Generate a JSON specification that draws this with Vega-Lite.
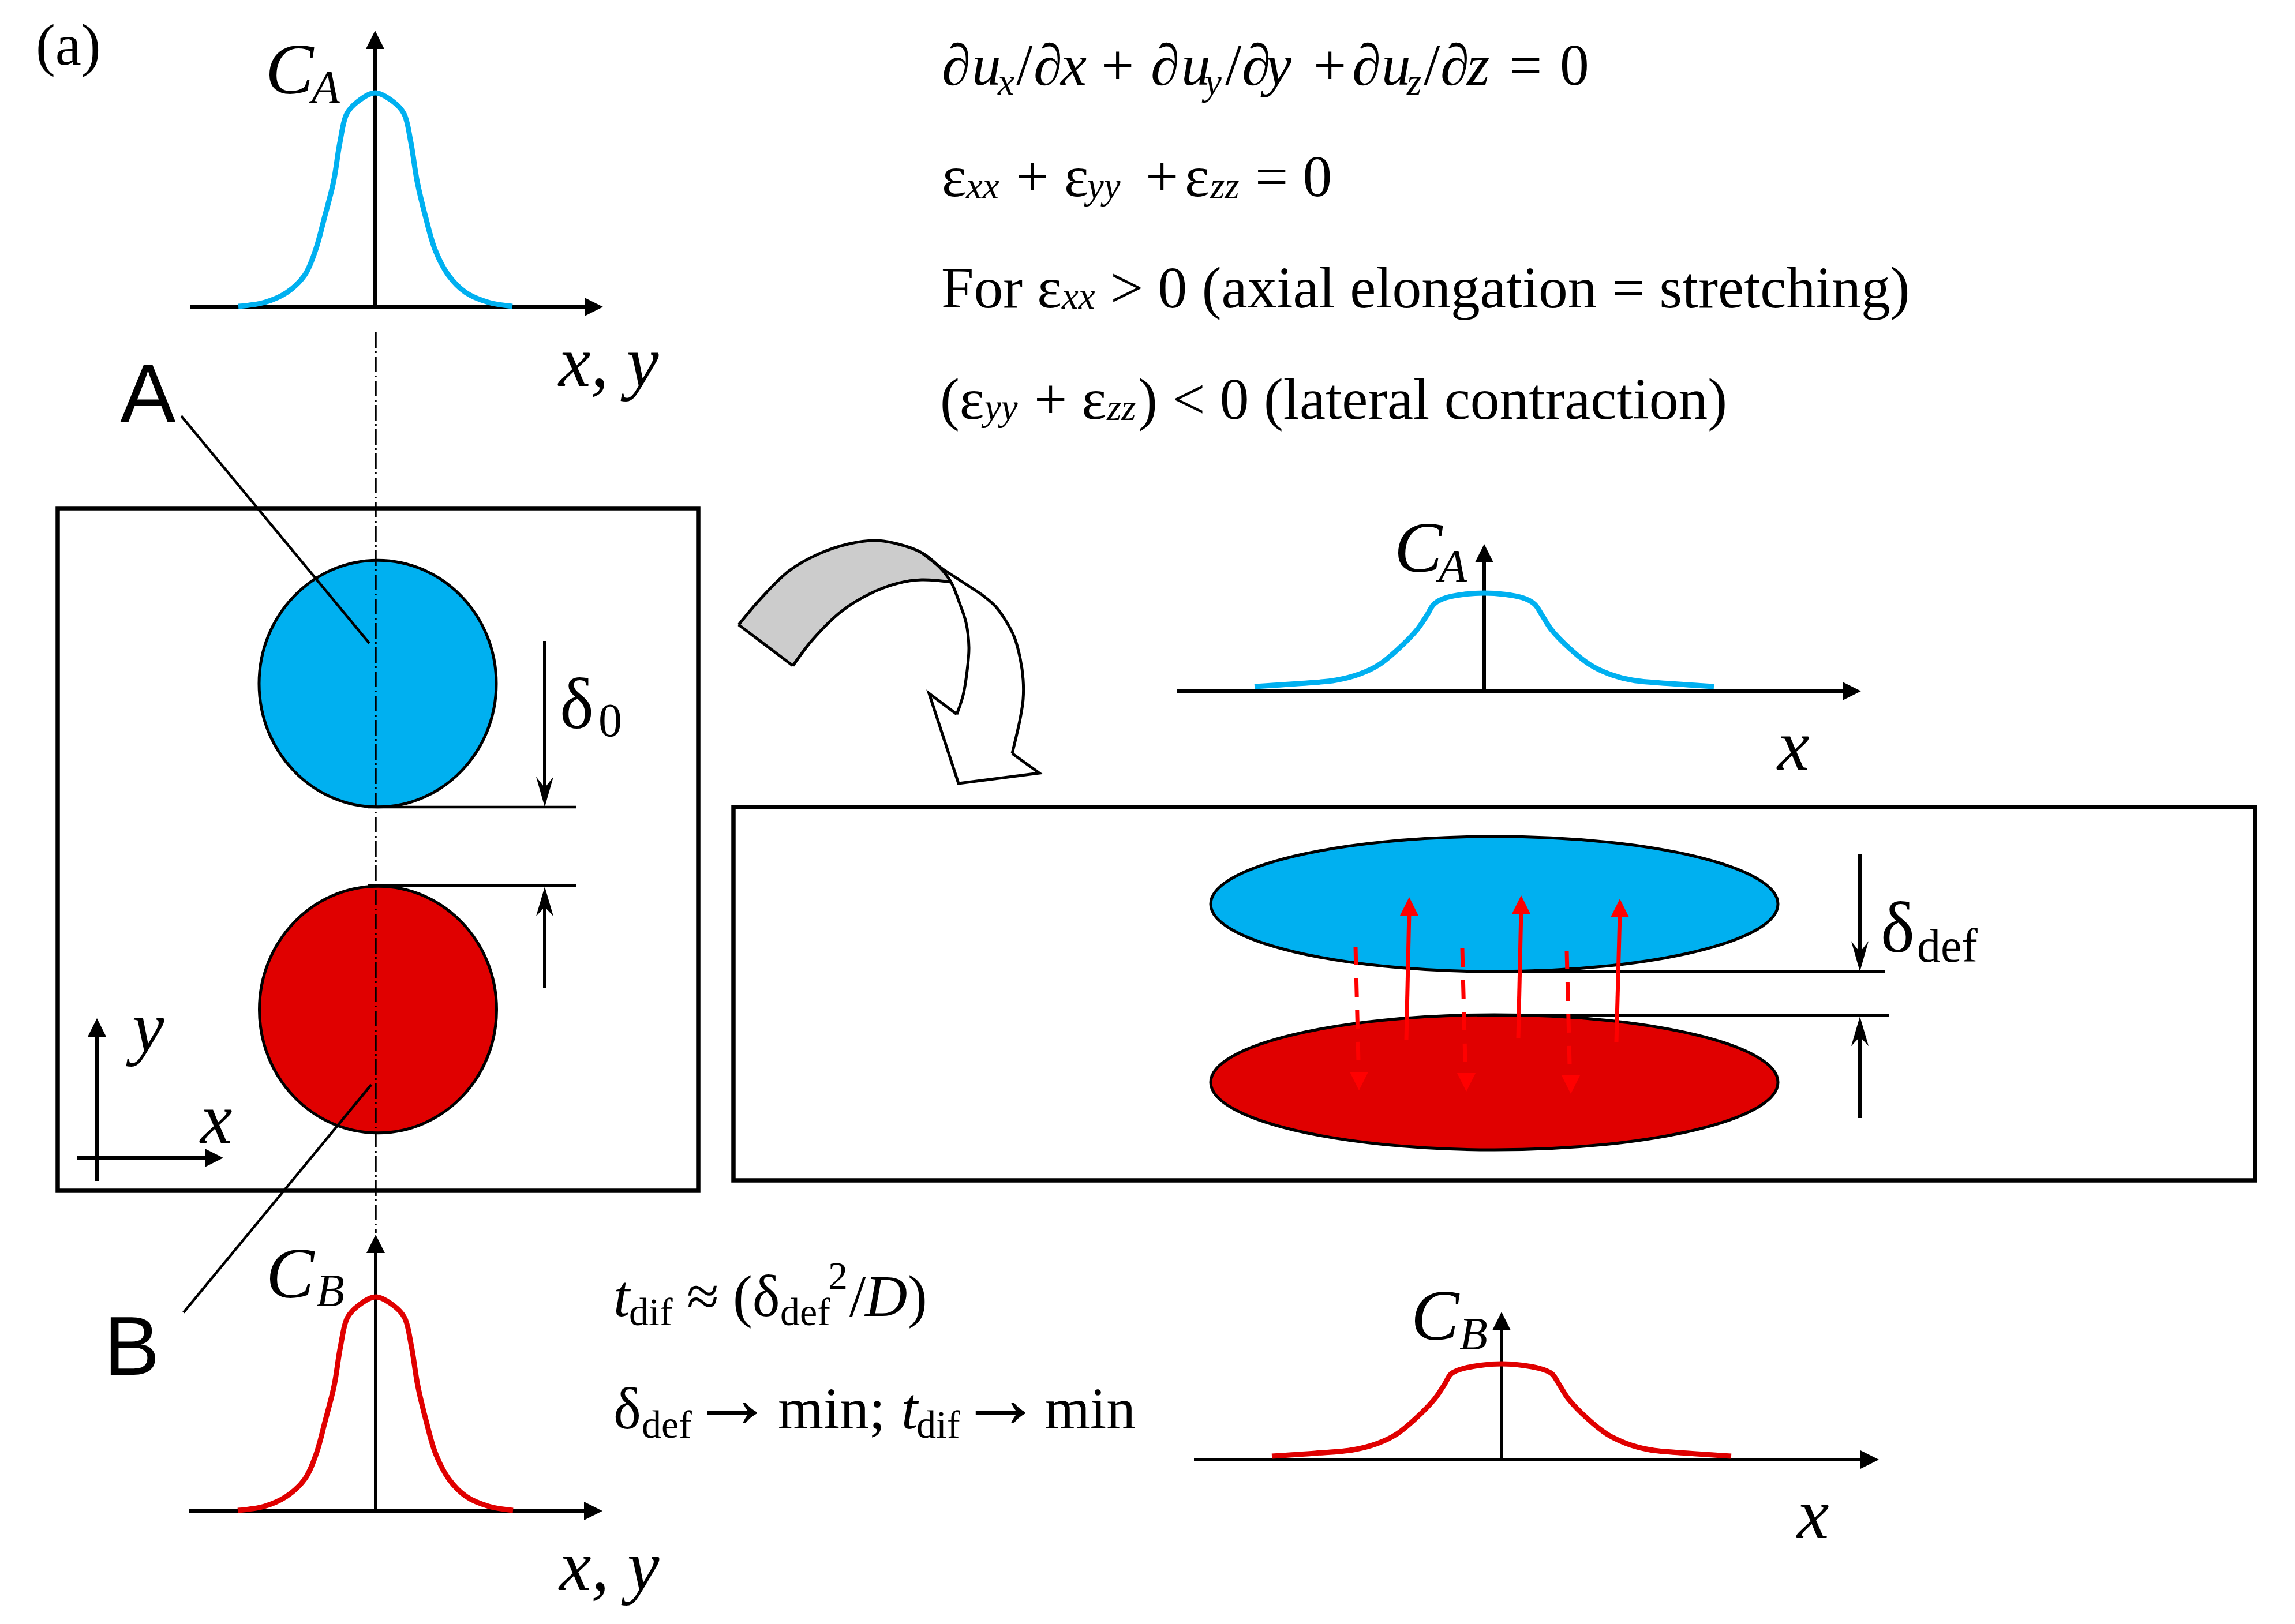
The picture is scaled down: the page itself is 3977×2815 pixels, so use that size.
{
"$schema":"https://vega.github.io/schema/vega-lite/v6.json",
"width":3977,"height":2815,"padding":0,"autosize":{"type":"none"},"background":"white",
"config":{"view":{"stroke":null}},
"datasets":{
"frames":[{"x":100,"x2":1210,"y":881,"y2":2064},{"x":1271,"x2":3908,"y":1399,"y2":2046}],
"bodies":[
{"id":"A","form":"round","x":654.5,"y":1185},{"id":"B","form":"round","x":655,"y":1750},
{"id":"A","form":"flat","x":2589.5,"y":1567},{"id":"B","form":"flat","x":2589.5,"y":1876}],
"band":[{"x":1280,"y":1083,"y2":1083},{"x":1317,"y":1039,"y2":1111},{"x":1368,"y":989,"y2":1150},{"x":1374,"y":986,"y2":1154},{"x":1408,"y":966,"y2":1109},{"x":1419,"y":960,"y2":1098},{"x":1459,"y":946,"y2":1059},{"x":1470,"y":943,"y2":1052},{"x":1510,"y":937,"y2":1028},{"x":1516,"y":937,"y2":1026},{"x":1556,"y":943,"y2":1011},{"x":1597,"y":958,"y2":1005},{"x":1628,"y":983,"y2":1006},{"x":1648,"y":1009,"y2":1009}],
"lines":[
{"kind":"axis","id":"tlv","i":0,"x":650,"y":80},{"kind":"axis","id":"tlv","i":1,"x":650,"y":532},
{"kind":"axis","id":"tlh","i":0,"x":329,"y":532},{"kind":"axis","id":"tlh","i":1,"x":1024,"y":532},
{"kind":"axis","id":"blv","i":0,"x":651,"y":2165},{"kind":"axis","id":"blv","i":1,"x":651,"y":2619},
{"kind":"axis","id":"blh","i":0,"x":328,"y":2619},{"kind":"axis","id":"blh","i":1,"x":1025,"y":2619},
{"kind":"axis","id":"bxv","i":0,"x":168,"y":1790},{"kind":"axis","id":"bxv","i":1,"x":168,"y":2047},
{"kind":"axis","id":"bxh","i":0,"x":133,"y":2007},{"kind":"axis","id":"bxh","i":1,"x":365,"y":2007},
{"kind":"axis","id":"trv","i":0,"x":2572,"y":970},{"kind":"axis","id":"trv","i":1,"x":2572,"y":1198},
{"kind":"axis","id":"trh","i":0,"x":2039,"y":1198},{"kind":"axis","id":"trh","i":1,"x":3200,"y":1198},
{"kind":"axis","id":"brv","i":0,"x":2602,"y":2300},{"kind":"axis","id":"brv","i":1,"x":2602,"y":2530},
{"kind":"axis","id":"brh","i":0,"x":2069,"y":2530},{"kind":"axis","id":"brh","i":1,"x":3235,"y":2530},
{"kind":"axis","id":"d1","i":0,"x":944,"y":1111},{"kind":"axis","id":"d1","i":1,"x":944,"y":1370},
{"kind":"axis","id":"d2","i":0,"x":944,"y":1570},{"kind":"axis","id":"d2","i":1,"x":944,"y":1713},
{"kind":"axis","id":"d3","i":0,"x":3223,"y":1481},{"kind":"axis","id":"d3","i":1,"x":3223,"y":1655},
{"kind":"axis","id":"d4","i":0,"x":3223,"y":1790},{"kind":"axis","id":"d4","i":1,"x":3223,"y":1938},
{"kind":"thin","id":"h1","i":0,"x":637,"y":1399},{"kind":"thin","id":"h1","i":1,"x":999,"y":1399},
{"kind":"thin","id":"h2","i":0,"x":637,"y":1535},{"kind":"thin","id":"h2","i":1,"x":999,"y":1535},
{"kind":"thin","id":"h3","i":0,"x":2559,"y":1684},{"kind":"thin","id":"h3","i":1,"x":3267,"y":1684},
{"kind":"thin","id":"h4","i":0,"x":2559,"y":1760},{"kind":"thin","id":"h4","i":1,"x":3273,"y":1760},
{"kind":"thin","id":"la","i":0,"x":314,"y":721},{"kind":"thin","id":"la","i":1,"x":640,"y":1115},
{"kind":"thin","id":"lb","i":0,"x":643.5,"y":1880},{"kind":"thin","id":"lb","i":1,"x":318,"y":2275},
{"kind":"centre","id":"c","i":0,"x":651,"y":576},{"kind":"centre","id":"c","i":1,"x":651,"y":2138},
{"kind":"redsolid","id":"r1","i":0,"x":2437,"y":1803},{"kind":"redsolid","id":"r1","i":1,"x":2442,"y":1580},
{"kind":"redsolid","id":"r2","i":0,"x":2631,"y":1800},{"kind":"redsolid","id":"r2","i":1,"x":2636,"y":1578},
{"kind":"redsolid","id":"r3","i":0,"x":2801,"y":1806},{"kind":"redsolid","id":"r3","i":1,"x":2807,"y":1585},
{"kind":"reddash","id":"q1","i":0,"x":2349,"y":1641},{"kind":"reddash","id":"q1","i":1,"x":2354,"y":1839},
{"kind":"reddash","id":"q2","i":0,"x":2534,"y":1644},{"kind":"reddash","id":"q2","i":1,"x":2539,"y":1841},
{"kind":"reddash","id":"q3","i":0,"x":2715,"y":1648},{"kind":"reddash","id":"q3","i":1,"x":2720,"y":1845},
{"kind":"edge","id":"e1","i":0,"x":1280,"y":1083},{"kind":"edge","id":"e1","i":1,"x":1374,"y":1154},
{"kind":"edge","id":"e2","i":0,"x":1658,"y":1238},{"kind":"edge","id":"e2","i":1,"x":1610,"y":1202},{"kind":"edge","id":"e2","i":2,"x":1661,"y":1358},{"kind":"edge","id":"e2","i":3,"x":1801,"y":1340},{"kind":"edge","id":"e2","i":4,"x":1754,"y":1306},
{"kind":"edge","id":"e3","i":0,"x":1597,"y":958},{"kind":"edge","id":"e3","i":1,"x":1633,"y":986},{"kind":"edge","id":"e3","i":2,"x":1699,"y":1029},
{"kind":"bend","id":"b1","i":0,"x":1280,"y":1083},{"kind":"bend","id":"b1","i":1,"x":1317,"y":1039},{"kind":"bend","id":"b1","i":2,"x":1368,"y":989},{"kind":"bend","id":"b1","i":3,"x":1419,"y":960},{"kind":"bend","id":"b1","i":4,"x":1470,"y":943},{"kind":"bend","id":"b1","i":5,"x":1516,"y":937},{"kind":"bend","id":"b1","i":6,"x":1556,"y":943},{"kind":"bend","id":"b1","i":7,"x":1597,"y":958},{"kind":"bend","id":"b1","i":8,"x":1628,"y":983},{"kind":"bend","id":"b1","i":9,"x":1648,"y":1009},{"kind":"bend","id":"b1","i":10,"x":1663,"y":1046},{"kind":"bend","id":"b1","i":11,"x":1674,"y":1079},{"kind":"bend","id":"b1","i":12,"x":1679,"y":1122},{"kind":"bend","id":"b1","i":13,"x":1676,"y":1162},{"kind":"bend","id":"b1","i":14,"x":1669,"y":1205},{"kind":"bend","id":"b1","i":15,"x":1658,"y":1238},
{"kind":"bend","id":"b2","i":0,"x":1374,"y":1154},{"kind":"bend","id":"b2","i":1,"x":1408,"y":1109},{"kind":"bend","id":"b2","i":2,"x":1459,"y":1059},{"kind":"bend","id":"b2","i":3,"x":1510,"y":1028},{"kind":"bend","id":"b2","i":4,"x":1556,"y":1011},{"kind":"bend","id":"b2","i":5,"x":1597,"y":1005},{"kind":"bend","id":"b2","i":6,"x":1648,"y":1009},
{"kind":"bend","id":"b3","i":0,"x":1754,"y":1306},{"kind":"bend","id":"b3","i":1,"x":1768,"y":1245},{"kind":"bend","id":"b3","i":2,"x":1773,"y":1212},{"kind":"bend","id":"b3","i":3,"x":1773,"y":1178},{"kind":"bend","id":"b3","i":4,"x":1768,"y":1142},{"kind":"bend","id":"b3","i":5,"x":1758,"y":1105},{"kind":"bend","id":"b3","i":6,"x":1743,"y":1076},{"kind":"bend","id":"b3","i":7,"x":1725,"y":1051},{"kind":"bend","id":"b3","i":8,"x":1699,"y":1029}
],
"curves":[
{"id":"A1","body":"A","i":0,"x":413,"y":531},{"id":"A1","body":"A","i":1,"x":459,"y":524},{"id":"A1","body":"A","i":2,"x":497,"y":507},{"id":"A1","body":"A","i":3,"x":528,"y":477},{"id":"A1","body":"A","i":4,"x":547,"y":433},{"id":"A1","body":"A","i":5,"x":562,"y":378},{"id":"A1","body":"A","i":6,"x":578,"y":315},{"id":"A1","body":"A","i":7,"x":589,"y":247},{"id":"A1","body":"A","i":8,"x":601,"y":197},{"id":"A1","body":"A","i":9,"x":620,"y":176},{"id":"A1","body":"A","i":10,"x":650,"y":161},{"id":"A1","body":"A","i":11,"x":681,"y":176},{"id":"A1","body":"A","i":12,"x":700,"y":197},{"id":"A1","body":"A","i":13,"x":712,"y":247},{"id":"A1","body":"A","i":14,"x":723,"y":315},{"id":"A1","body":"A","i":15,"x":738,"y":378},{"id":"A1","body":"A","i":16,"x":754,"y":433},{"id":"A1","body":"A","i":17,"x":777,"y":477},{"id":"A1","body":"A","i":18,"x":807,"y":507},{"id":"A1","body":"A","i":19,"x":846,"y":524},{"id":"A1","body":"A","i":20,"x":888,"y":531},
{"id":"B1","body":"B","i":0,"x":412,"y":2618},{"id":"B1","body":"B","i":1,"x":458,"y":2611},{"id":"B1","body":"B","i":2,"x":496,"y":2594},{"id":"B1","body":"B","i":3,"x":528,"y":2564},{"id":"B1","body":"B","i":4,"x":548,"y":2520},{"id":"B1","body":"B","i":5,"x":563,"y":2465},{"id":"B1","body":"B","i":6,"x":579,"y":2402},{"id":"B1","body":"B","i":7,"x":590,"y":2334},{"id":"B1","body":"B","i":8,"x":602,"y":2284},{"id":"B1","body":"B","i":9,"x":621,"y":2263},{"id":"B1","body":"B","i":10,"x":651,"y":2248},{"id":"B1","body":"B","i":11,"x":682,"y":2263},{"id":"B1","body":"B","i":12,"x":701,"y":2284},{"id":"B1","body":"B","i":13,"x":713,"y":2334},{"id":"B1","body":"B","i":14,"x":724,"y":2402},{"id":"B1","body":"B","i":15,"x":739,"y":2465},{"id":"B1","body":"B","i":16,"x":755,"y":2520},{"id":"B1","body":"B","i":17,"x":778,"y":2564},{"id":"B1","body":"B","i":18,"x":808,"y":2594},{"id":"B1","body":"B","i":19,"x":847,"y":2611},{"id":"B1","body":"B","i":20,"x":889,"y":2618},
{"id":"A2","body":"A","i":0,"x":2174,"y":1190},{"id":"A2","body":"A","i":1,"x":2249,"y":1185},{"id":"A2","body":"A","i":2,"x":2315,"y":1179},{"id":"A2","body":"A","i":3,"x":2357,"y":1168},{"id":"A2","body":"A","i":4,"x":2390,"y":1152},{"id":"A2","body":"A","i":5,"x":2423,"y":1125},{"id":"A2","body":"A","i":6,"x":2456,"y":1091},{"id":"A2","body":"A","i":7,"x":2473,"y":1066},{"id":"A2","body":"A","i":8,"x":2485,"y":1047},{"id":"A2","body":"A","i":9,"x":2506,"y":1036},{"id":"A2","body":"A","i":10,"x":2572,"y":1028},{"id":"A2","body":"A","i":11,"x":2638,"y":1036},{"id":"A2","body":"A","i":12,"x":2659,"y":1047},{"id":"A2","body":"A","i":13,"x":2672,"y":1066},{"id":"A2","body":"A","i":14,"x":2688,"y":1091},{"id":"A2","body":"A","i":15,"x":2721,"y":1125},{"id":"A2","body":"A","i":16,"x":2755,"y":1152},{"id":"A2","body":"A","i":17,"x":2788,"y":1168},{"id":"A2","body":"A","i":18,"x":2829,"y":1179},{"id":"A2","body":"A","i":19,"x":2896,"y":1185},{"id":"A2","body":"A","i":20,"x":2970,"y":1190},
{"id":"B2","body":"B","i":0,"x":2204,"y":2524},{"id":"B2","body":"B","i":1,"x":2279,"y":2519},{"id":"B2","body":"B","i":2,"x":2345,"y":2513},{"id":"B2","body":"B","i":3,"x":2387,"y":2502},{"id":"B2","body":"B","i":4,"x":2420,"y":2486},{"id":"B2","body":"B","i":5,"x":2453,"y":2459},{"id":"B2","body":"B","i":6,"x":2486,"y":2425},{"id":"B2","body":"B","i":7,"x":2503,"y":2400},{"id":"B2","body":"B","i":8,"x":2515,"y":2381},{"id":"B2","body":"B","i":9,"x":2536,"y":2372},{"id":"B2","body":"B","i":10,"x":2602,"y":2364},{"id":"B2","body":"B","i":11,"x":2668,"y":2372},{"id":"B2","body":"B","i":12,"x":2689,"y":2381},{"id":"B2","body":"B","i":13,"x":2702,"y":2400},{"id":"B2","body":"B","i":14,"x":2718,"y":2425},{"id":"B2","body":"B","i":15,"x":2751,"y":2459},{"id":"B2","body":"B","i":16,"x":2785,"y":2486},{"id":"B2","body":"B","i":17,"x":2818,"y":2502},{"id":"B2","body":"B","i":18,"x":2859,"y":2513},{"id":"B2","body":"B","i":19,"x":2926,"y":2519},{"id":"B2","body":"B","i":20,"x":3000,"y":2524}
],
"heads":[
{"dir":"up","tone":"black","x":650,"y":53},{"dir":"right","tone":"black","x":1045,"y":532},
{"dir":"up","tone":"black","x":651,"y":2140},{"dir":"right","tone":"black","x":1044,"y":2619},
{"dir":"up","tone":"black","x":168,"y":1765},{"dir":"right","tone":"black","x":387,"y":2007},
{"dir":"up","tone":"black","x":2572,"y":943},{"dir":"right","tone":"black","x":3225,"y":1198},
{"dir":"up","tone":"black","x":2602,"y":2274},{"dir":"right","tone":"black","x":3256,"y":2530},
{"dir":"barbdown","tone":"black","x":944,"y":1399},{"dir":"barbup","tone":"black","x":944,"y":1537},
{"dir":"barbdown","tone":"black","x":3223,"y":1684},{"dir":"barbup","tone":"black","x":3223,"y":1762},
{"dir":"up","tone":"red","x":2442,"y":1555},{"dir":"up","tone":"red","x":2636,"y":1552},{"dir":"up","tone":"red","x":2807,"y":1558},
{"dir":"down","tone":"red","x":2355,"y":1890},{"dir":"down","tone":"red","x":2541,"y":1892},{"dir":"down","tone":"red","x":2722,"y":1896}
],
"texts":[
{"s":"r100","label":"(a)","x":62,"y":112},
{"s":"r100","label":"∂","x":1632,"y":147},{"s":"i100","label":"u","x":1684,"y":147},{"s":"i65","label":"x","x":1729,"y":164},{"s":"r100","label":"/","x":1761,"y":147},{"s":"r100","label":"∂","x":1791,"y":147},{"s":"i100","label":"x","x":1838,"y":147},{"s":"r100","label":"+","x":1908,"y":147},{"s":"r100","label":"∂","x":1994,"y":147},{"s":"i100","label":"u","x":2047,"y":147},{"s":"i65","label":"y","x":2088,"y":164},{"s":"r100","label":"/","x":2123,"y":147},{"s":"r100","label":"∂","x":2152,"y":147},{"s":"i100","label":"y","x":2193,"y":147},{"s":"r100","label":"+","x":2276,"y":147},{"s":"r100","label":"∂","x":2343,"y":147},{"s":"i100","label":"u","x":2394,"y":147},{"s":"i65","label":"z","x":2438,"y":164},{"s":"r100","label":"/","x":2467,"y":147},{"s":"r100","label":"∂","x":2496,"y":147},{"s":"i100","label":"z","x":2542,"y":147},{"s":"r100","label":"=","x":2615,"y":147},{"s":"r100","label":"0","x":2703,"y":147},
{"s":"r100","label":"ε","x":1632,"y":340},{"s":"i65","label":"xx","x":1674,"y":344},{"s":"r100","label":"+","x":1760,"y":340},{"s":"r100","label":"ε","x":1844,"y":340},{"s":"i65","label":"yy","x":1884,"y":344},{"s":"r100","label":"+","x":1985,"y":340},{"s":"r100","label":"ε","x":2053,"y":340},{"s":"i65","label":"zz","x":2097,"y":344},{"s":"r100","label":"= 0","x":2175,"y":340},
{"s":"r100","label":"For ε","x":1631,"y":533},{"s":"i65","label":"xx","x":1840,"y":535},{"s":"r100","label":"> 0 (axial elongation = stretching)","x":1924,"y":533},
{"s":"r100","label":"(ε","x":1629,"y":726},{"s":"i65","label":"yy","x":1706,"y":728},{"s":"r100","label":"+ ε","x":1792,"y":726},{"s":"i65","label":"zz","x":1918,"y":728},{"s":"r100","label":") < 0 (lateral contraction)","x":1972,"y":726},
{"s":"i100","label":"t","x":1063,"y":2281},{"s":"r68","label":"dif","x":1090,"y":2297},{"s":"r100","label":"≈","x":1190,"y":2281},{"s":"r100","label":"(δ","x":1270,"y":2281},{"s":"r68","label":"def","x":1352,"y":2297},{"s":"r68","label":"2","x":1435,"y":2234},{"s":"r100","label":"/","x":1472,"y":2281},{"s":"i100","label":"D","x":1499,"y":2281},{"s":"r100","label":")","x":1573,"y":2281},
{"s":"r100","label":"δ","x":1063,"y":2476},{"s":"r68","label":"def","x":1112,"y":2492},{"s":"r145","label":"→","x":1196,"y":2473},{"s":"r100","label":"min;","x":1348,"y":2476},{"s":"i100","label":"t","x":1562,"y":2476},{"s":"r68","label":"dif","x":1588,"y":2492},{"s":"r145","label":"→","x":1661,"y":2473},{"s":"r100","label":"min","x":1810,"y":2476},
{"s":"i125","label":"C","x":460,"y":162},{"s":"i80","label":"A","x":540,"y":178},{"s":"i125","label":"x, y","x":968,"y":669},
{"s":"i125","label":"C","x":461,"y":2249},{"s":"i80","label":"B","x":548,"y":2264},{"s":"i125","label":"x, y","x":969,"y":2756},
{"s":"i125","label":"y","x":229,"y":1822},{"s":"i125","label":"x","x":347,"y":1981},
{"s":"i125","label":"C","x":2416,"y":991},{"s":"i80","label":"A","x":2493,"y":1008},{"s":"i125","label":"x","x":3080,"y":1334},
{"s":"i125","label":"C","x":2445,"y":2322},{"s":"i80","label":"B","x":2529,"y":2339},{"s":"i125","label":"x","x":3114,"y":2666},
{"s":"r125","label":"δ","x":970,"y":1262},{"s":"r82","label":"0","x":1037,"y":1276},
{"s":"r125","label":"δ","x":3259,"y":1650},{"s":"r82","label":"def","x":3322,"y":1667},
{"s":"sans","label":"A","x":208,"y":732},{"s":"sans","label":"B","x":180,"y":2383}
]
},
"encoding":{
"x":{"field":"x","type":"quantitative","scale":{"domain":[0,3977],"nice":false,"zero":false},"axis":null},
"y":{"field":"y","type":"quantitative","scale":{"domain":[2815,0],"nice":false,"zero":false},"axis":null}
},
"layer":[
{"data":{"name":"frames"},"mark":{"type":"rect","fillOpacity":0,"stroke":"#000000","strokeWidth":7.5},"encoding":{"x2":{"field":"x2"},"y2":{"field":"y2"}}},
{"data":{"name":"band"},"mark":{"type":"area","color":"#CCCCCC","interpolate":"linear"},"encoding":{"y2":{"field":"y2"}}},
{"data":{"name":"lines"},"transform":[{"filter":"datum.kind=='edge'"}],"mark":{"type":"line","color":"#000000","strokeWidth":5,"strokeJoin":"miter"},"encoding":{"detail":{"field":"id"},"order":{"field":"i","type":"quantitative"}}},
{"data":{"name":"lines"},"transform":[{"filter":"datum.kind=='bend'"}],"mark":{"type":"line","color":"#000000","strokeWidth":5,"interpolate":"catmull-rom"},"encoding":{"detail":{"field":"id"},"order":{"field":"i","type":"quantitative"}}},
{"data":{"name":"bodies"},"transform":[{"filter":"datum.form=='round'"}],"mark":{"type":"point","filled":true,"opacity":1,"stroke":"#000000","strokeWidth":5,"size":168921,"shape":"M-1 0C-1 -0.5744 -0.5523 -1.04 0 -1.04C0.5523 -1.04 1 -0.5744 1 0C1 0.5744 0.5523 1.04 0 1.04C-0.5523 1.04 -1 0.5744 -1 0Z"},"encoding":{"fill":{"field":"id","type":"nominal","scale":{"domain":["A","B","black","red"],"range":["#00B0F0","#E00000","#000000","#FF0000"]},"legend":null}}},
{"data":{"name":"bodies"},"transform":[{"filter":"datum.form=='flat'"}],"mark":{"type":"point","filled":true,"opacity":1,"stroke":"#000000","strokeWidth":5,"size":966289,"shape":"M-1 0C-1 -0.1314 -0.5523 -0.238 0 -0.238C0.5523 -0.238 1 -0.1314 1 0C1 0.1314 0.5523 0.238 0 0.238C-0.5523 0.238 -1 0.1314 -1 0Z"},"encoding":{"fill":{"field":"id","type":"nominal","scale":{"domain":["A","B","black","red"],"range":["#00B0F0","#E00000","#000000","#FF0000"]},"legend":null}}},
{"data":{"name":"lines"},"transform":[{"filter":"datum.kind=='centre'"}],"mark":{"type":"line","color":"#000000","strokeWidth":3.5,"strokeDash":[27,6,3,6]},"encoding":{"detail":{"field":"id"},"order":{"field":"i","type":"quantitative"}}},
{"data":{"name":"lines"},"transform":[{"filter":"datum.kind=='axis'"}],"mark":{"type":"line","color":"#000000","strokeWidth":6},"encoding":{"detail":{"field":"id"},"order":{"field":"i","type":"quantitative"}}},
{"data":{"name":"lines"},"transform":[{"filter":"datum.kind=='thin'"}],"mark":{"type":"line","color":"#000000","strokeWidth":4.5},"encoding":{"detail":{"field":"id"},"order":{"field":"i","type":"quantitative"}}},
{"data":{"name":"curves"},"mark":{"type":"line","strokeWidth":9,"interpolate":"catmull-rom"},"encoding":{"detail":{"field":"id"},"order":{"field":"i","type":"quantitative"},"color":{"field":"body","type":"nominal","scale":{"domain":["A","B"],"range":["#00B0F0","#E00000"]},"legend":null}}},
{"data":{"name":"lines"},"transform":[{"filter":"datum.kind=='redsolid'"}],"mark":{"type":"line","color":"#FF0000","strokeWidth":7},"encoding":{"detail":{"field":"id"},"order":{"field":"i","type":"quantitative"}}},
{"data":{"name":"lines"},"transform":[{"filter":"datum.kind=='reddash'"}],"mark":{"type":"line","color":"#FF0000","strokeWidth":7,"strokeDash":[32,23]},"encoding":{"detail":{"field":"id"},"order":{"field":"i","type":"quantitative"}}},
{"data":{"name":"heads"},"mark":{"type":"point","filled":true,"opacity":1,"size":1024,"strokeWidth":0},"encoding":{
"shape":{"field":"dir","type":"nominal","legend":null,"scale":{"domain":["up","down","right","barbdown","barbup"],"range":["M0 0L1 2L-1 2Z","M0 0L1 -2L-1 -2Z","M0 0L-2 1L-2 -1Z","M0 0L0.94 -3.3L0 -2.1L-0.94 -3.3Z","M0 0L0.94 3.2L0 2.2L-0.94 3.2Z"]}},
"fill":{"field":"tone","type":"nominal","legend":null,"scale":{"domain":["A","B","black","red"],"range":["#00B0F0","#E00000","#000000","#FF0000"]}}}},
{"data":{"name":"texts"},"transform":[{"filter":"datum.s=='r100'"}],"mark":{"type":"text","font":"Liberation Serif","fontSize":101.5,"align":"left","baseline":"alphabetic","color":"#000000"},"encoding":{"text":{"field":"label"}}},
{"data":{"name":"texts"},"transform":[{"filter":"datum.s=='r145'"}],"mark":{"type":"text","font":"Liberation Serif","fontSize":145,"align":"left","baseline":"alphabetic","color":"#000000"},"encoding":{"text":{"field":"label"}}},
{"data":{"name":"texts"},"transform":[{"filter":"datum.s=='i100'"}],"mark":{"type":"text","font":"Liberation Serif","fontStyle":"italic","fontSize":101.5,"align":"left","baseline":"alphabetic","color":"#000000"},"encoding":{"text":{"field":"label"}}},
{"data":{"name":"texts"},"transform":[{"filter":"datum.s=='i65'"}],"mark":{"type":"text","font":"Liberation Serif","fontStyle":"italic","fontSize":65,"align":"left","baseline":"alphabetic","color":"#000000"},"encoding":{"text":{"field":"label"}}},
{"data":{"name":"texts"},"transform":[{"filter":"datum.s=='r68'"}],"mark":{"type":"text","font":"Liberation Serif","fontSize":68,"align":"left","baseline":"alphabetic","color":"#000000"},"encoding":{"text":{"field":"label"}}},
{"data":{"name":"texts"},"transform":[{"filter":"datum.s=='i125'"}],"mark":{"type":"text","font":"Liberation Serif","fontStyle":"italic","fontSize":125,"align":"left","baseline":"alphabetic","color":"#000000"},"encoding":{"text":{"field":"label"}}},
{"data":{"name":"texts"},"transform":[{"filter":"datum.s=='i80'"}],"mark":{"type":"text","font":"Liberation Serif","fontStyle":"italic","fontSize":80,"align":"left","baseline":"alphabetic","color":"#000000"},"encoding":{"text":{"field":"label"}}},
{"data":{"name":"texts"},"transform":[{"filter":"datum.s=='r125'"}],"mark":{"type":"text","font":"Liberation Serif","fontSize":125,"align":"left","baseline":"alphabetic","color":"#000000"},"encoding":{"text":{"field":"label"}}},
{"data":{"name":"texts"},"transform":[{"filter":"datum.s=='r82'"}],"mark":{"type":"text","font":"Liberation Serif","fontSize":82,"align":"left","baseline":"alphabetic","color":"#000000"},"encoding":{"text":{"field":"label"}}},
{"data":{"name":"texts"},"transform":[{"filter":"datum.s=='sans'"}],"mark":{"type":"text","font":"Liberation Sans","fontSize":145,"align":"left","baseline":"alphabetic","color":"#000000"},"encoding":{"text":{"field":"label"}}}
]
}
